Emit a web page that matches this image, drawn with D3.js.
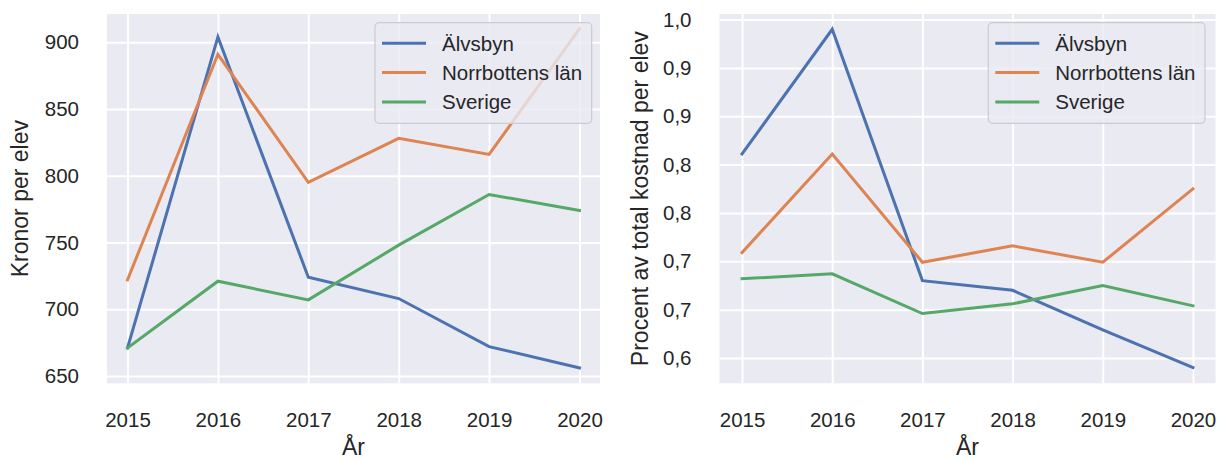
<!DOCTYPE html>
<html lang="sv">
<head>
    <meta charset="UTF-8">
    <title>Kronor och procent per elev</title>
    <script src="https://d3js.org/d3.v7.min.js"></script>
    <style>
        body {
            margin: 0;
            background: #ffffff;
            font-family: "Liberation Sans", Arial, sans-serif;
        }
        .grid line {
            stroke: #ffffff;
            stroke-width: 2;
        }
        .grid text {
            fill: #262626;
            font-size: 20.5px;
        }
        .axis-label {
            fill: #262626;
            font-size: 23px;
        }
        .legend text {
            fill: #262626;
            font-size: 20.5px;
        }
    </style>
</head>
<body>
    <div id="chart"></div>

    <script>
        // data
        const years = [2015, 2016, 2017, 2018, 2019, 2020];
        const seriesNames = ["Älvsbyn", "Norrbottens län", "Sverige"];

        const kronorAlvsbyn = [671, 904, 724, 708, 672, 656];
        const kronorNorrbotten = [722, 891, 795, 828, 816, 910];
        const kronorSverige = [671, 721, 707, 748, 786, 774];

        const procentAlvsbyn = [0.811, 0.940, 0.680, 0.670, 0.629, 0.590];
        const procentNorrbotten = [0.709, 0.811, 0.699, 0.716, 0.699, 0.775];
        const procentSverige = [0.682, 0.687, 0.646, 0.656, 0.675, 0.654];

        const kronorTicks = [650, 700, 750, 800, 850, 900];
        const procentTicks = [0.60, 0.65, 0.70, 0.75, 0.80, 0.85, 0.90, 0.95];
        const procentTickLabels = ["0,6", "0,7", "0,7", "0,8", "0,8", "0,9", "0,9", "1,0"];

        const colors = ["#4c72b0", "#dd8452", "#55a868"];

        const svg = d3.select("#chart")
            .append("svg")
            .attr("width", 1217)
            .attr("height", 461);

        function drawPanel(opts) {
            const { left, right, top, bottom, yDomain, yTicks, yFormat, series, yLabel, labelX } = opts;
            const width = right - left;
            const height = bottom - top;

            const x = d3.scaleLinear()
                .domain([2015 - opts.xPad, 2020 + opts.xPad])
                .range([0, width]);
            const y = d3.scaleLinear()
                .domain(yDomain)
                .range([height, 0]);

            const g = svg.append("g").attr("transform", `translate(${left},${top})`);

            g.append("rect")
                .attr("width", width)
                .attr("height", height)
                .attr("fill", "#eaeaf2");

            // gridlines + tick labels
            g.append("g")
                .attr("class", "grid")
                .attr("transform", `translate(0,${height})`)
                .call(d3.axisBottom(x).tickValues(years).tickFormat(d3.format("d"))
                    .tickSize(-height).tickPadding(28.8))
                .call(a => a.select(".domain").remove());

            g.append("g")
                .attr("class", "grid")
                .call(d3.axisLeft(y).tickValues(yTicks).tickFormat(yFormat)
                    .tickSize(-width).tickPadding(28))
                .call(a => a.select(".domain").remove());

            const line = d3.line()
                .x((d, i) => x(years[i]))
                .y(d => y(d));

            series.forEach((vals, i) => {
                g.append("path")
                    .datum(vals)
                    .attr("fill", "none")
                    .attr("stroke", colors[i])
                    .attr("stroke-width", 3)
                    .attr("stroke-linecap", "square")
                    .attr("d", line);
            });

            // axis titles
            g.append("text")
                .attr("class", "axis-label")
                .attr("x", width / 2)
                .attr("y", 455 - top)
                .attr("text-anchor", "middle")
                .text("År");

            g.append("text")
                .attr("class", "axis-label")
                .attr("transform", `translate(${labelX - left},${height / 2}) rotate(-90)`)
                .attr("text-anchor", "middle")
                .text(yLabel);

            // legend, upper right
            const lw = 216.7, lh = 100.6;
            const legend = g.append("g")
                .attr("class", "legend")
                .attr("transform", `translate(${width - opts.legendInset - lw},${8.7})`);

            legend.append("rect")
                .attr("width", lw)
                .attr("height", lh)
                .attr("rx", 4)
                .attr("fill", "#eaeaf2")
                .attr("fill-opacity", 0.8)
                .attr("stroke", "#cccccc")
                .attr("stroke-width", 1.2);

            seriesNames.forEach((name, i) => {
                const cy = 20.6 + i * 29.3;
                legend.append("line")
                    .attr("x1", 7).attr("x2", 51)
                    .attr("y1", cy).attr("y2", cy)
                    .attr("stroke", colors[i])
                    .attr("stroke-width", 3);
                legend.append("text")
                    .attr("x", 67)
                    .attr("y", cy)
                    .attr("dy", "0.36em")
                    .text(name);
            });
        }

        drawPanel({
            left: 107, right: 600, top: 14, bottom: 383.3,
            xPad: 0.227,
            yDomain: [644.5, 921.2],
            yTicks: kronorTicks,
            yFormat: d3.format("d"),
            series: [kronorAlvsbyn, kronorNorrbotten, kronorSverige],
            yLabel: "Kronor per elev",
            labelX: 28,
            legendInset: 8.3
        });

        drawPanel({
            left: 719.5, right: 1215.5, top: 14, bottom: 383.3,
            xPad: 0.25,
            yDomain: [0.5738, 0.9558],
            yTicks: procentTicks,
            yFormat: (d, i) => procentTickLabels[i],
            series: [procentAlvsbyn, procentNorrbotten, procentSverige],
            yLabel: "Procent av total kostnad per elev",
            labelX: 648,
            legendInset: 10.5
        });
    </script>
</body>
</html>
